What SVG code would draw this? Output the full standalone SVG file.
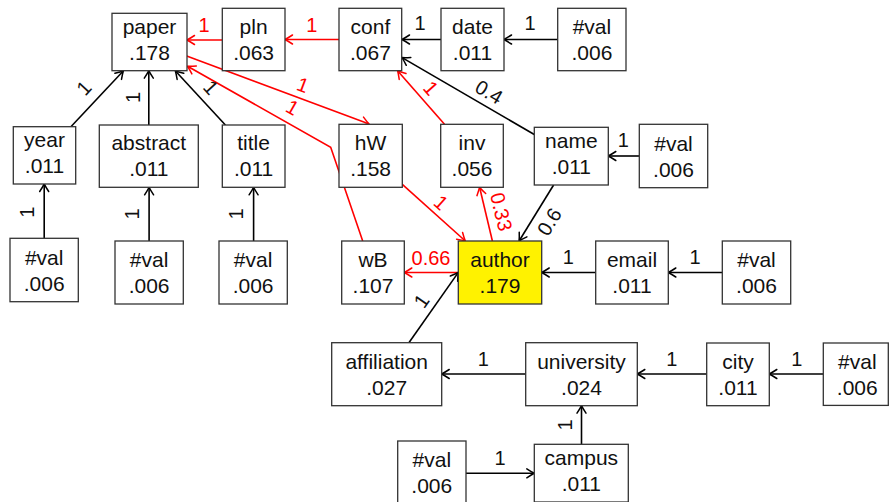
<svg xmlns="http://www.w3.org/2000/svg" width="889" height="502" viewBox="0 0 889 502">
  <style>
    .box { fill: #ffffff; stroke: #333333; stroke-width: 1.3; }
    .hl { fill: #fff200; }
    .nt { font-family: "Liberation Sans", Arial, sans-serif; font-size: 21px; fill: #111111; text-anchor: middle; }
    .lb { font-family: "Liberation Sans", Arial, sans-serif; font-size: 20px; fill: #111111; text-anchor: middle; }
    .lr { fill: #ff0000; }
    .e { fill: none; stroke: #000000; stroke-width: 1.6; marker-end: url(#tipK); }
    .er { fill: none; stroke: #ff0000; stroke-width: 1.6; marker-end: url(#tipR); }
  </style>
  <defs>
    <marker id="tipK" markerUnits="userSpaceOnUse" viewBox="-9 -6 11 12" refX="0" refY="0" markerWidth="11" markerHeight="12" orient="auto" overflow="visible">
      <path d="M -7 -4.5 Q -2 -1.2 0.6 0 Q -2 1.2 -7 4.5" fill="none" stroke="#000000" stroke-width="1.5" stroke-linecap="round"/>
    </marker>
    <marker id="tipR" markerUnits="userSpaceOnUse" viewBox="-9 -6 11 12" refX="0" refY="0" markerWidth="11" markerHeight="12" orient="auto" overflow="visible">
      <path d="M -7 -4.5 Q -2 -1.2 0.6 0 Q -2 1.2 -7 4.5" fill="none" stroke="#ff0000" stroke-width="1.5" stroke-linecap="round"/>
    </marker>
  </defs>

  <rect width="889" height="502" fill="#ffffff"/>

  <!-- connectors -->
  <g id="edges">
    <!-- top row -->
    <line class="e" x1="441" y1="39.5" x2="402.5" y2="39.5"/>
    <line class="e" x1="557.7" y1="39.5" x2="504.5" y2="39.5"/>
    <line class="er" x1="222.3" y1="40" x2="187.5" y2="40"/>
    <line class="er" x1="339" y1="39.5" x2="285.5" y2="39.5"/>
    <!-- into paper -->
    <line class="e" x1="70.9" y1="126.7" x2="123" y2="71.2"/>
    <line class="e" x1="148.8" y1="125" x2="148.8" y2="71.2"/>
    <line class="e" x1="225.4" y1="125" x2="175.7" y2="71.2"/>
    <!-- #val into year / abstract / title -->
    <line class="e" x1="44.2" y1="238.3" x2="44.2" y2="184.5"/>
    <line class="e" x1="149.1" y1="241" x2="149.1" y2="187.8"/>
    <line class="e" x1="253.6" y1="241" x2="253.6" y2="187.8"/>
    <!-- name -->
    <line class="e" x1="534.3" y1="134.5" x2="402.5" y2="57.9"/>
    <line class="e" x1="553.6" y1="185" x2="519.4" y2="240.5"/>
    <line class="e" x1="639.3" y1="156" x2="608.8" y2="156"/>
    <!-- author row -->
    <line class="e" x1="595.7" y1="272.5" x2="542.2" y2="272.5"/>
    <line class="e" x1="722.3" y1="272.5" x2="668.8" y2="272.5"/>
    <line class="er" x1="458.3" y1="272.5" x2="404.8" y2="272.5"/>
    <line class="e" x1="408.9" y1="342.7" x2="458" y2="272.9"/>
    <!-- red weighted links -->
    <line class="er" x1="186.7" y1="56" x2="368.5" y2="123.8"/>
    <polyline class="er" points="362.7,241 330.7,147.3 188,66.5"/>
    <line class="er" x1="402.3" y1="184.3" x2="464.8" y2="240.5"/>
    <line class="er" x1="492.4" y1="241" x2="479.7" y2="187.8"/>
    <line class="er" x1="444.5" y1="124.3" x2="398" y2="71.2"/>
    <!-- affiliation chain -->
    <line class="e" x1="525.7" y1="374" x2="442.2" y2="374"/>
    <line class="e" x1="706.7" y1="374" x2="637.8" y2="374"/>
    <line class="e" x1="823.3" y1="374" x2="769.8" y2="374"/>
    <line class="e" x1="581.5" y1="444.3" x2="581.5" y2="406.2"/>
    <line class="e" x1="466" y1="473.3" x2="533.8" y2="473.3"/>

    <!-- edge labels -->
    <text class="lb lr" x="204" y="31.5">1</text>
    <text class="lb lr" x="311.7" y="31.5">1</text>
    <text class="lb" x="420" y="30">1</text>
    <text class="lb" x="530" y="30">1</text>
    <text class="lb" x="623.3" y="146.5">1</text>
    <text class="lb" x="568.3" y="263.5">1</text>
    <text class="lb" x="695" y="263.5">1</text>
    <text class="lb lr" x="431" y="265">0.66</text>
    <text class="lb" x="483.3" y="366">1</text>
    <text class="lb" x="671.7" y="366">1</text>
    <text class="lb" x="796.7" y="366">1</text>
    <text class="lb" x="500" y="465">1</text>

    <text class="lb" transform="translate(84,88) rotate(-47.2)" y="7">1</text>
    <text class="lb" transform="translate(133.3,97.5) rotate(-90)" y="7">1</text>
    <text class="lb" transform="translate(211,87.5) rotate(47.6)" y="7">1</text>
    <text class="lb" transform="translate(26.7,212.3) rotate(-90)" y="7">1</text>
    <text class="lb" transform="translate(131.7,214) rotate(-90)" y="7">1</text>
    <text class="lb" transform="translate(235.5,214) rotate(-90)" y="7">1</text>
    <text class="lb" transform="translate(565,425) rotate(-90)" y="7">1</text>
    <text class="lb" transform="translate(489,92) rotate(30.1)" y="7">0.4</text>
    <text class="lb" transform="translate(549.3,221.7) rotate(-58.5)" y="7">0.6</text>
    <text class="lb" transform="translate(421.5,301) rotate(-54.9)" y="7">1</text>
    <text class="lb lr" transform="translate(303,85) rotate(20.5)" y="7">1</text>
    <text class="lb lr" transform="translate(292.5,107.5) rotate(29.5)" y="7">1</text>
    <text class="lb lr" transform="translate(431,88) rotate(48.9)" y="7">1</text>
    <text class="lb lr" transform="translate(441,202.5) rotate(42)" y="7">1</text>
    <text class="lb lr" transform="translate(501.3,211.7) rotate(76.5)" y="7">0.33</text>
  </g>

  <!-- nodes -->
  <g id="paper"><rect class="box" x="112" y="13.3" width="75" height="57.4"/><text class="nt" x="149.5" y="33.7">paper</text><text class="nt" x="149.5" y="59.7">.178</text></g>
  <g id="pln"><rect class="box" x="222.3" y="8.3" width="62.7" height="62.4"/><text class="nt" x="253.6" y="33.7">pln</text><text class="nt" x="253.6" y="59.7">.063</text></g>
  <g id="conf"><rect class="box" x="339" y="8.3" width="62.7" height="62.4"/><text class="nt" x="370.4" y="33.7">conf</text><text class="nt" x="370.4" y="59.7">.067</text></g>
  <g id="date"><rect class="box" x="441" y="8.3" width="63" height="62.4"/><text class="nt" x="472.5" y="33.7">date</text><text class="nt" x="472.5" y="59.7">.011</text></g>
  <g id="val-date"><rect class="box" x="557.7" y="8.3" width="68.3" height="62.4"/><text class="nt" x="591.9" y="33.7">#val</text><text class="nt" x="591.9" y="59.7">.006</text></g>

  <g id="year"><rect class="box" x="13.3" y="126.7" width="62.4" height="57.3"/><text class="nt" x="44.5" y="147">year</text><text class="nt" x="44.5" y="173">.011</text></g>
  <g id="abstract"><rect class="box" x="99.3" y="125" width="99" height="62.3"/><text class="nt" x="148.8" y="150.3">abstract</text><text class="nt" x="148.8" y="176.3">.011</text></g>
  <g id="title"><rect class="box" x="222.3" y="125" width="62.7" height="62.3"/><text class="nt" x="253.6" y="150.3">title</text><text class="nt" x="253.6" y="176.3">.011</text></g>
  <g id="hW"><rect class="box" x="339" y="124.3" width="63.3" height="63"/><text class="nt" x="370.6" y="150.3">hW</text><text class="nt" x="370.6" y="176.3">.158</text></g>
  <g id="inv"><rect class="box" x="440.7" y="124.3" width="62.6" height="63"/><text class="nt" x="472" y="150.3">inv</text><text class="nt" x="472" y="176.3">.056</text></g>
  <g id="name"><rect class="box" x="534.3" y="127.3" width="74" height="57.7"/><text class="nt" x="571.3" y="148">name</text><text class="nt" x="571.3" y="174">.011</text></g>
  <g id="val-name"><rect class="box" x="639.3" y="124.3" width="68.4" height="63.4"/><text class="nt" x="673.5" y="150.7">#val</text><text class="nt" x="673.5" y="176.7">.006</text></g>

  <g id="val-year"><rect class="box" x="10" y="238.3" width="68.3" height="63.4"/><text class="nt" x="44.2" y="264.7">#val</text><text class="nt" x="44.2" y="290.7">.006</text></g>
  <g id="val-abstract"><rect class="box" x="115" y="241" width="68.3" height="63"/><text class="nt" x="149.1" y="267">#val</text><text class="nt" x="149.1" y="293">.006</text></g>
  <g id="val-title"><rect class="box" x="219" y="241" width="68.3" height="63"/><text class="nt" x="253.1" y="267">#val</text><text class="nt" x="253.1" y="293">.006</text></g>
  <g id="wB"><rect class="box" x="341.7" y="241" width="62.6" height="63"/><text class="nt" x="373" y="267">wB</text><text class="nt" x="373" y="293">.107</text></g>
  <g id="author"><rect class="box hl" x="458.3" y="241" width="83.4" height="63"/><text class="nt" x="500" y="267">author</text><text class="nt" x="500" y="293">.179</text></g>
  <g id="email"><rect class="box" x="595.7" y="241" width="72.6" height="63"/><text class="nt" x="632" y="267">email</text><text class="nt" x="632" y="293">.011</text></g>
  <g id="val-email"><rect class="box" x="722.3" y="241" width="68.4" height="63"/><text class="nt" x="756.5" y="267">#val</text><text class="nt" x="756.5" y="293">.006</text></g>

  <g id="affiliation"><rect class="box" x="331.7" y="342.7" width="110" height="63"/><text class="nt" x="386.7" y="368.7">affiliation</text><text class="nt" x="386.7" y="394.7">.027</text></g>
  <g id="university"><rect class="box" x="525.7" y="342.7" width="111.6" height="63"/><text class="nt" x="581.5" y="368.7">university</text><text class="nt" x="581.5" y="394.7">.024</text></g>
  <g id="city"><rect class="box" x="706.7" y="343" width="62.6" height="62.7"/><text class="nt" x="738" y="368.7">city</text><text class="nt" x="738" y="394.7">.011</text></g>
  <g id="val-city"><rect class="box" x="823.3" y="343" width="65" height="62.4"/><text class="nt" x="857.3" y="368.7">#val</text><text class="nt" x="857.3" y="394.7">.006</text></g>

  <g id="val-campus"><rect class="box" x="397.7" y="441" width="68.3" height="63"/><text class="nt" x="431.8" y="467">#val</text><text class="nt" x="431.8" y="493">.006</text></g>
  <g id="campus"><rect class="box" x="534.3" y="444.3" width="94" height="57.7"/><text class="nt" x="581.3" y="465">campus</text><text class="nt" x="581.3" y="491">.011</text></g>
</svg>
